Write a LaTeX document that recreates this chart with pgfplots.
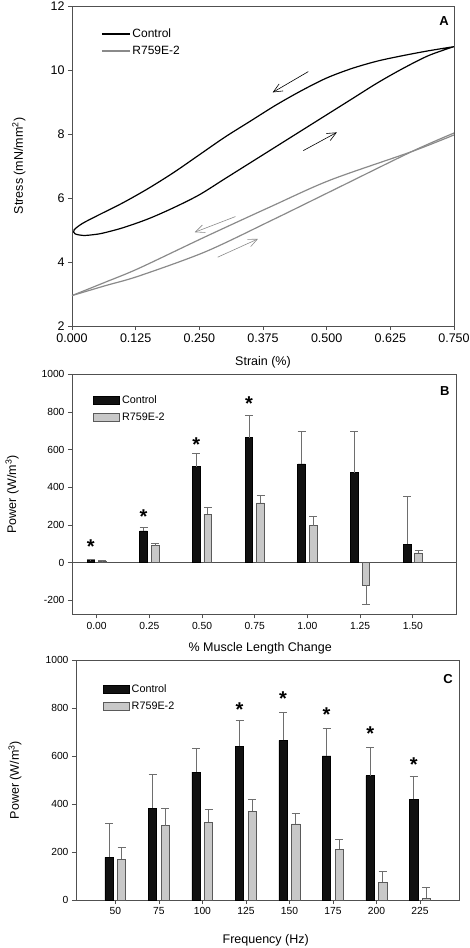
\documentclass[border=0pt]{standalone}
\usepackage{fontspec}
\setmainfont{Liberation Sans}
\usepackage{pgfplots}
\pgfplotsset{compat=1.18}
\usetikzlibrary{arrows.meta}
\definecolor{ctrl}{HTML}{111111}
\definecolor{mut}{HTML}{C8C8C8}
\definecolor{mutedge}{HTML}{5A5A5A}
\definecolor{loopgray}{HTML}{8A8A8A}
\definecolor{errgray}{HTML}{6E6E6E}
\definecolor{axgray}{HTML}{505050}
\tikzset{labfont/.style={font=\fontsize{12.5}{14}\selectfont}}
\pgfplotsset{
  common/.style={
    scale only axis,
    anchor=south west,
    axis line style={axgray, line width=0.7pt},
    tick style={axgray, line width=0.6pt},
    tick align=outside,
    major tick length=4pt,
    xtick pos=bottom, ytick pos=left,
    /pgf/number format/assume math mode=true,
    /pgf/number format/1000 sep={},
    clip=true,
  },
  barlegend/.style={
    legend style={draw=none, fill=none, inner sep=0pt, row sep=4pt,
      font=\fontsize{10.8}{12}\selectfont},
    legend cell align=left,
    legend image code/.code={\draw[##1] (0pt,-3.8pt) rectangle (26pt,3.8pt);},
  },
  ctrlbar/.style={ybar, fill=ctrl, draw=black, line width=0.6pt},
  mutbar/.style={ybar, fill=mut, draw=mutedge, line width=0.7pt},
  errs/.style={draw=none, mark=none, forget plot,
      /pgfplots/error bars/y dir=#1, /pgfplots/error bars/y explicit,
      /pgfplots/error bars/error mark=-,
      /pgfplots/error bars/error bar style={draw=errgray, line width=0.8pt},
      /pgfplots/error bars/error mark options={rotate=90, draw=errgray, line width=0.8pt, mark size=4pt}},
  starmark/.style={only marks, mark=text,
      text mark={\fontsize{20}{20}\selectfont\bfseries *},
      mark options={black}},
}
\begin{document}
\begin{tikzpicture}[x=1pt,y=1pt]
\path[use as bounding box] (0,0) rectangle (470,948);

% ---------------- Panel A ----------------
\begin{axis}[common,
  at={(72pt,622pt)}, width=382pt, height=320pt,
  xmin=0, xmax=0.75, ymin=2, ymax=12,
  xtick={0,0.125,0.25,0.375,0.5,0.625,0.75},
  ytick={2,4,6,8,10,12},
  xticklabel={\pgfmathprintnumber[fixed,fixed zerofill,precision=3]{\tick}},
  ticklabel style={font=\fontsize{12.5}{14}\selectfont},
  xlabel={Strain (\%)}, ylabel={Stress (mN/mm\textsuperscript{2})},
  every axis x label/.style={at={(axis description cs:0.5,-0.113)}, anchor=center, labfont},
  every axis y label/.style={at={(axis description cs:-0.139,0.5)}, rotate=90, anchor=center, labfont},
  legend style={at={(rel axis cs:0.076,0.886)}, anchor=west, draw=none, fill=none,
    inner sep=0pt, row sep=3pt, font=\fontsize{12}{13}\selectfont},
  legend cell align=left,
  legend image code/.code={\draw[#1, line width=1.2pt] (0pt,0pt) -- (28pt,0pt);},
]
\addplot[black, line width=1.2pt, smooth, tension=0.5] coordinates {
 (0.75,10.73) (0.7,10.6) (0.65,10.45) (0.6,10.28) (0.55,10.05) (0.5,9.75)
 (0.45,9.35) (0.4,8.9) (0.35,8.4) (0.3,7.9) (0.25,7.35) (0.2,6.8) (0.15,6.3)
 (0.1,5.85) (0.05,5.45) (0.02,5.2) (0.004,5.0) (0.006,4.88) (0.022,4.83) (0.04,4.85) (0.06,4.9)
 (0.1,5.07) (0.15,5.35) (0.2,5.7) (0.25,6.1) (0.3,6.6) (0.35,7.1) (0.4,7.6)
 (0.45,8.1) (0.5,8.6) (0.55,9.1) (0.6,9.6) (0.65,10.05) (0.7,10.45) (0.75,10.73)};
\addlegendentry{Control}
\addplot[loopgray, line width=1.2pt, smooth, tension=0.5] coordinates {
 (0,2.95) (0.0655,3.37) (0.131,3.8) (0.262,4.79) (0.393,5.75) (0.507,6.56)
 (0.667,7.45) (0.75,7.97)};
\addlegendentry{R759E-2}
\addplot[loopgray, line width=1.2pt, smooth, tension=0.5, forget plot] coordinates {
 (0,2.95) (0.0655,3.26) (0.131,3.56) (0.262,4.32) (0.393,5.31) (0.507,6.2)
 (0.667,7.45) (0.75,8.03)};
% direction arrows
\addplot[black, line width=0.6pt, -{Straight Barb[length=9pt,width=8pt]}, forget plot]
  coordinates {(0.464,9.95) (0.394,9.3)};
\addplot[black, line width=0.6pt, -{Straight Barb[length=9pt,width=8pt]}, forget plot]
  coordinates {(0.454,7.48) (0.52,8.05)};
\addplot[loopgray, line width=0.6pt, -{Straight Barb[length=9pt,width=8pt]}, forget plot]
  coordinates {(0.321,5.42) (0.241,4.93)};
\addplot[loopgray, line width=0.6pt, -{Straight Barb[length=9pt,width=8pt]}, forget plot]
  coordinates {(0.286,4.15) (0.365,4.72)};
\node[font=\fontsize{13}{14}\bfseries\selectfont] at (rel axis cs:0.974,0.953) {A};
\end{axis}

% ---------------- Panel B ----------------
\begin{axis}[common, barlegend,
  at={(72pt,333.7pt)}, width=384pt, height=240pt,
  xmin=-0.117, xmax=1.705, ymin=-275, ymax=1000,
  xtick={0,0.25,0.5,0.75,1,1.25,1.5},
  ytick={-200,0,200,400,600,800,1000},
  yticklabels={-200,0,200,400,600,800,1000},
  xticklabel={\pgfmathprintnumber[fixed,fixed zerofill,precision=2]{\tick}},
  ticklabel style={font=\fontsize{10.3}{12}\selectfont},
  extra y ticks={0}, extra y tick labels={},
  extra y tick style={grid=major, major grid style={axgray, line width=0.7pt}},
  xlabel={\% Muscle Length Change}, ylabel={Power (W/m\textsuperscript{3})},
  every axis x label/.style={at={(axis description cs:0.49,-0.142)}, anchor=center, labfont},
  every axis y label/.style={at={(axis description cs:-0.156,0.5)}, rotate=90, anchor=center, labfont},
  legend style={at={(rel axis cs:0.055,0.856)}, anchor=west},
  bar width=7.7pt,
]
\addplot[ctrlbar, bar shift=-5.8pt] coordinates {
 (0,12) (0.25,168) (0.5,510) (0.75,664) (1,524) (1.25,478) (1.5,96)};
\addlegendentry{Control}
\addplot[mutbar, bar shift=5.8pt] coordinates {
 (0,7) (0.25,90) (0.5,257) (0.75,317) (1,195) (1.25,-122) (1.5,51)};
\addlegendentry{R759E-2}
% error bars (x positions at the bar centres)
\addplot[errs=plus] coordinates {
 (-0.0275,12) +- (0,4) (0.2225,168) +- (0,18) (0.4725,510) +- (0,69) (0.7225,664) +- (0,115)
 (0.9725,524) +- (0,173) (1.2225,478) +- (0,216) (1.4725,96) +- (0,253)};
\addplot[errs=plus] coordinates {
 (0.0275,7) +- (0,2) (0.2775,90) +- (0,13) (0.5275,257) +- (0,37) (0.7775,317) +- (0,41)
 (1.0275,195) +- (0,51) (1.5275,51) +- (0,16)};
\addplot[errs=minus] coordinates {(1.2775,-122) +- (0,99)};
\addplot[starmark, mark options={xshift=-5.8pt}, forget plot] coordinates {
 (0,85) (0.25,244) (0.5,625) (0.75,846)};
\node[font=\fontsize{13}{14}\bfseries\selectfont] at (rel axis cs:0.971,0.932) {B};
\end{axis}

% ---------------- Panel C ----------------
\begin{axis}[common, barlegend,
  at={(76pt,48pt)}, width=383.3pt, height=240pt,
  xmin=27.4, xmax=247.6, ymin=0, ymax=1000,
  xtick={50,75,100,125,150,175,200,225},
  ytick={0,200,400,600,800,1000},
  ticklabel style={font=\fontsize{10.3}{12}\selectfont},
  xlabel={Frequency (Hz)}, ylabel={Power (W/m\textsuperscript{3})},
  every axis x label/.style={at={(axis description cs:0.495,-0.1667)}, anchor=center, labfont},
  every axis y label/.style={at={(axis description cs:-0.159,0.5)}, rotate=90, anchor=center, labfont},
  legend style={at={(rel axis cs:0.07,0.842)}, anchor=west},
  bar width=8.3pt,
]
\addplot[ctrlbar, bar shift=-6.3pt] coordinates {
 (50,178) (75,383) (100,533) (125,640) (150,665) (175,600) (200,518) (225,419)};
\addlegendentry{Control}
\addplot[mutbar, bar shift=6.3pt] coordinates {
 (50,169) (75,310) (100,325) (125,369) (150,317) (175,211) (200,75) (225,7)};
\addlegendentry{R759E-2}
\addplot[errs=plus] coordinates {
 (46.38,178) +- (0,140) (71.38,383) +- (0,141) (96.38,533) +- (0,99) (121.38,640) +- (0,109)
 (146.38,665) +- (0,116) (171.38,600) +- (0,114) (196.38,518) +- (0,118) (221.38,419) +- (0,96)};
\addplot[errs=plus] coordinates {
 (53.62,169) +- (0,52) (78.62,310) +- (0,73) (103.62,325) +- (0,53) (128.62,369) +- (0,50)
 (153.62,317) +- (0,43) (178.62,211) +- (0,40) (203.62,75) +- (0,44) (228.62,7) +- (0,46)};
\addplot[starmark, mark options={xshift=-6.3pt}, forget plot] coordinates {
 (125,792) (150,837) (175,774) (200,692) (225,562)};
\node[font=\fontsize{13}{14}\bfseries\selectfont] at (rel axis cs:0.9705,0.92) {C};
\end{axis}
\end{tikzpicture}
\end{document}
